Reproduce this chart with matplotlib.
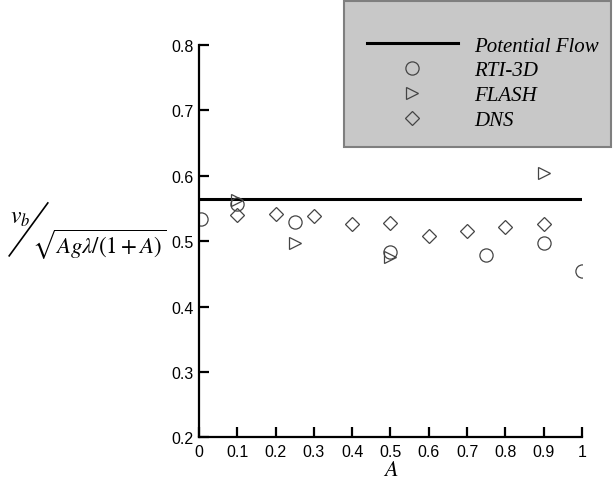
import numpy as np
import matplotlib.pyplot as plt
from matplotlib.lines import Line2D
from matplotlib.patches import Rectangle

# values
A_rti = [0.005, 0.1, 0.25, 0.5, 0.75, 0.9, 1.0]
v_rti = [0.533, 0.556, 0.529, 0.484, 0.478, 0.497, 0.455]

A_flash = [0.1, 0.25, 0.5, 0.9]
v_flash = [0.563, 0.497, 0.475, 0.604]

A_dns = [0.1, 0.2, 0.3, 0.4, 0.5, 0.6, 0.7, 0.8, 0.9]
v_dns = [0.540, 0.541, 0.539, 0.526, 0.528, 0.508, 0.516, 0.521, 0.526]

v_potential = 1 / np.sqrt(np.pi)

xticks = [0, 0.1, 0.2, 0.3, 0.4, 0.5, 0.6, 0.7, 0.8, 0.9, 1]
xticklabels = ['0', '0.1', '0.2', '0.3', '0.4', '0.5', '0.6', '0.7', '0.8', '0.9', '1']
yticks = [0.2, 0.3, 0.4, 0.5, 0.6, 0.7, 0.8]

plt.rcParams['mathtext.fontset'] = 'stix'

fig = plt.figure(figsize=(6.13, 4.81), dpi=100)
ax = fig.add_axes([0.3246, 0.0884, 0.6248, 0.8166])
ax.set_facecolor('none')

mec = '#444444'
ax.plot([0, 1], [v_potential, v_potential], color='black', lw=2.2,
        label='Potential Flow')
ax.plot(A_rti, v_rti, 'o', ms=9.5, mfc='none', mec=mec, mew=0.9, label='RTI-3D')
ax.plot(A_flash, v_flash, '>', ms=9, mfc='none', mec=mec, mew=0.9, label='FLASH')
ax.plot(A_dns, v_dns, 'D', ms=7.5, mfc='none', mec=mec, mew=0.9, label='DNS')

ax.set_xlim(0, 1)
ax.set_ylim(0.2, 0.8)
for s in ['top', 'right']:
    ax.spines[s].set_visible(False)
for s in ['left', 'bottom']:
    ax.spines[s].set_linewidth(1.6)
ax.set_xticks(xticks)
ax.set_xticklabels(xticklabels)
ax.set_yticks(yticks)
ax.tick_params(direction='in', length=7, width=1.6, labelsize=11.5, pad=4)
ax.tick_params(axis='x', pad=5)
for lab in ax.get_xticklabels() + ax.get_yticklabels():
    lab.set_family('Liberation Sans')

ax.set_xlabel('$A$', fontsize=16, labelpad=0)

# y label drawn as a slanted fraction
fig.text(0.016, 0.548, r'$v_b$', fontsize=17, ha='left', va='center')
fig.add_artist(Line2D([0.015, 0.078], [0.466, 0.576], color='black', lw=1.2))
fig.text(0.053, 0.49, r'$\sqrt{Ag\lambda/(1+A)}$', fontsize=16.5, ha='left', va='center')

# gray legend box
fig.add_artist(Rectangle((344 / 613, 1 - 148 / 481), 267 / 613, 146 / 481,
                         transform=fig.transFigure, facecolor='#c8c8c8',
                         edgecolor='#7f7f7f', lw=1.5, zorder=0))
leg = fig.legend(loc='upper left', bbox_to_anchor=(374 / 613 - 0.012, 1 - 37 / 481),
                 frameon=False, handlelength=4.4, handletextpad=0.75,
                 labelspacing=0.25, borderpad=0.0, borderaxespad=0,
                 prop={'family': 'Liberation Serif', 'style': 'italic', 'size': 15})

fig.savefig('out.png', dpi=100)
